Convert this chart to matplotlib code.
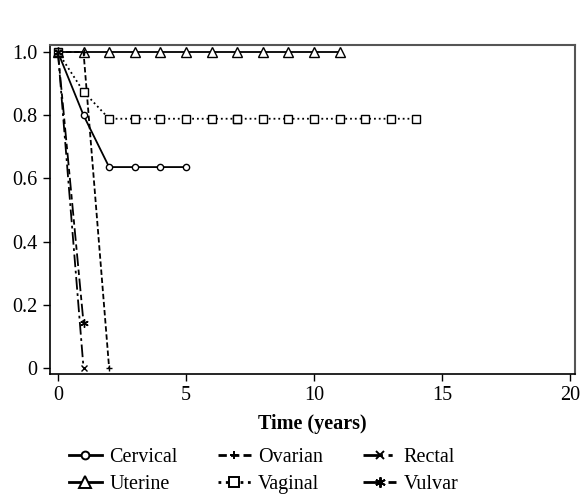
import matplotlib
matplotlib.use("Agg")
import matplotlib.pyplot as plt

plt.rcParams['font.family'] = ['Liberation Serif', 'DejaVu Serif']

# survival estimates by cancer site
cervical_t = [0, 1, 2, 3, 4, 5]
cervical_s = [1.0, 0.8, 0.636, 0.636, 0.636, 0.636]

uterine_t = [0, 1, 2, 3, 4, 5, 6, 7, 8, 9, 10, 11]
uterine_s = [1.0] * 12

ovarian_t = [0, 1, 2]
ovarian_s = [1.0, 1.0, 0.0]

vaginal_t = [0, 1, 2, 3, 4, 5, 6, 7, 7, 8, 9, 10, 11, 12, 13, 14]
vaginal_s = [1.0, 0.875] + [0.789] * 14

rectal_t = [0, 1]
rectal_s = [1.0, 0.0]

vulvar_t = [0, 1]
vulvar_s = [1.0, 0.143]

xticks = [0, 5, 10, 15, 20]
yticks = [0, 0.2, 0.4, 0.6, 0.8, 1.0]
ylabels = ['0', '0.2', '0.4', '0.6', '0.8', '1.0']

fs = 14.5

fig = plt.figure(figsize=(5.88, 4.96), dpi=100)
ax = fig.add_axes([0.085, 0.246, 0.893, 0.663])

common = dict(color='black', lw=1.3, mfc='white', mec='black', mew=1.0)
ax.plot(cervical_t, cervical_s, '-', marker='o', ms=4.5, label='Cervical', **common)
ax.plot(uterine_t, uterine_s, '-', marker='^', ms=6.5, label='Uterine', **common)
ax.plot(ovarian_t, ovarian_s, '--', marker='+', ms=5, label='Ovarian', dashes=(3, 1.5), **common)
ax.plot(vaginal_t, vaginal_s, ':', marker='s', ms=5.5, label='Vaginal', **common)
ax.plot(rectal_t, rectal_s, marker='x', ms=5, label='Rectal', dashes=(7, 2, 1.5, 2), **common)
ax.plot(vulvar_t, vulvar_s, marker=(6, 2, 0), ms=6, label='Vulvar', dashes=(7, 2, 3, 2), **common)

ax.set_xlim(-0.31, 20.2)
ax.set_ylim(-0.019, 1.022)
ax.set_xticks(xticks)
ax.set_yticks(yticks)
ax.set_yticklabels(ylabels)
ax.tick_params(direction='out', length=5, width=1, labelsize=fs, colors='black', pad=4)
for side in ['top', 'right']:
    ax.spines[side].set_color('#555555')
    ax.spines[side].set_linewidth(1.5)
for side in ['left', 'bottom']:
    ax.spines[side].set_linewidth(1.2)
ax.set_xlabel('Time (years)', fontsize=fs, fontweight='bold', labelpad=6)

h, l = ax.get_legend_handles_labels()
order = [0, 1, 2, 3, 4, 5]  # Cervical, Uterine, Ovarian, Vaginal, Rectal, Vulvar
leg = fig.legend([h[i] for i in order], [l[i] for i in order], ncol=3,
                 loc='upper left', bbox_to_anchor=(0.117, 0.096), frameon=False,
                 fontsize=fs, handlelength=1.65, handletextpad=0.35,
                 columnspacing=2.0, labelspacing=0.38, borderpad=0, borderaxespad=0)
for line in leg.get_lines():
    line.set_linewidth(2.0)
    line.set_markeredgewidth(1.4)
    line.set_markersize(line.get_markersize() * 1.25)

fig.savefig('out.png', dpi=100)
